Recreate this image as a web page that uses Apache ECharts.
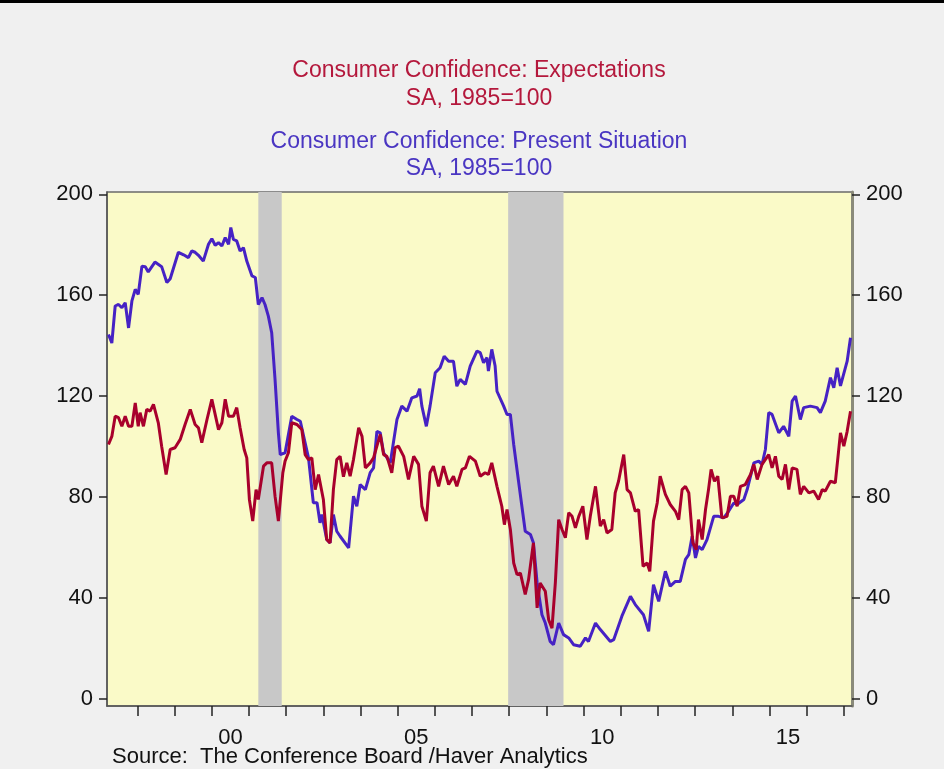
<!DOCTYPE html>
<html>
<head>
<meta charset="utf-8">
<script src="https://cdn.jsdelivr.net/npm/echarts@6/dist/echarts.min.js"></script>
<style>
html,body{margin:0;padding:0;background:#f0f0f0}
#chart{width:944px;height:769px}
</style>
</head>
<body>
<div id="chart"></div>
<script>
// Present Situation (blue), decimal years
var presentDates = [1997.22,1997.31,1997.40,1997.49,1997.58,1997.67,1997.76,1997.85,1997.94,1998.02,1998.12,1998.21,1998.29,1998.47,1998.65,1998.79,1998.88,1999.10,1999.24,1999.37,1999.46,1999.55,1999.64,1999.77,1999.91,2000.00,2000.09,2000.18,2000.27,2000.36,2000.45,2000.51,2000.58,2000.67,2000.76,2000.85,2000.94,2001.08,2001.17,2001.25,2001.35,2001.43,2001.52,2001.61,2001.70,2001.79,2001.84,2001.97,2002.15,2002.29,2002.38,2002.47,2002.60,2002.73,2002.83,2002.91,2002.96,2003.09,2003.18,2003.27,2003.36,2003.45,2003.68,2003.81,2003.90,2003.99,2004.13,2004.26,2004.35,2004.44,2004.53,2004.62,2004.80,2004.98,2005.11,2005.25,2005.38,2005.52,2005.59,2005.65,2005.77,2005.87,2006.01,2006.14,2006.25,2006.37,2006.50,2006.59,2006.68,2006.82,2006.95,2007.13,2007.22,2007.31,2007.40,2007.44,2007.53,2007.62,2007.67,2007.85,2007.94,2008.03,2008.12,2008.25,2008.43,2008.57,2008.65,2008.75,2008.88,2008.97,2009.10,2009.19,2009.33,2009.46,2009.60,2009.73,2009.91,2010.05,2010.13,2010.32,2010.45,2010.72,2010.81,2011.03,2011.26,2011.39,2011.61,2011.75,2011.88,2012.02,2012.20,2012.33,2012.47,2012.60,2012.74,2012.83,2012.92,2013.01,2013.09,2013.19,2013.32,2013.50,2013.63,2013.77,2013.90,2014.04,2014.13,2014.31,2014.40,2014.58,2014.71,2014.80,2014.89,2014.98,2015.07,2015.25,2015.38,2015.52,2015.61,2015.70,2015.83,2015.92,2016.10,2016.28,2016.37,2016.50,2016.64,2016.73,2016.82,2016.91,2017.09,2017.18];
var presentValues = [144.4,141,155.7,156.3,155,157,147,157.7,162.3,160.3,171.5,171.3,169.2,173.1,171.3,165,166.5,177,176,174.9,177.5,177,175.8,173.5,180.2,182.4,179.8,180.8,179.5,182.8,180.2,186.8,182.1,181.5,177.5,178.8,173.5,167.6,167,156.3,159,156.3,151.7,145.1,126.6,105.4,96.8,97.5,112,110.7,110,104,95.5,77.7,77.7,69.7,73,63.1,61.8,73,66.4,64.4,59.8,80.3,76.3,84.9,82.9,89.6,91.5,106,105.4,97.5,93.5,110.7,116,114,119.3,120,122.9,116,108,116,129.2,131.2,135.8,133.8,133.8,123.9,126.6,124.6,131.9,137.8,137.2,133.2,135.2,129.9,138.5,131.9,121.9,116,112.7,112.7,100.8,86.2,66.4,65.1,61.8,45.9,33.3,30,22.7,21.4,30,25.4,24.1,21.4,20.8,24.1,22.7,30,27.4,22.7,23.4,32.7,40.6,37.3,33.3,26.7,45.2,38.6,50.5,44.6,46.5,46.5,55.2,57.1,64.4,55.8,60.4,59.1,63.1,72.3,72.3,71.7,74.3,77.6,77,79,82.9,93.5,94.2,92.9,98.8,113.4,112.7,105.4,108,104,118,120,110.7,115.4,116,115.4,113.4,118,127.3,123.3,131.2,124,133.8,143.1];

// Expectations (red)
var expectDates = [1997.22,1997.31,1997.40,1997.49,1997.58,1997.67,1997.76,1997.85,1997.94,1998.02,1998.07,1998.16,1998.25,1998.34,1998.43,1998.56,1998.65,1998.77,1998.88,1999.01,1999.15,1999.28,1999.42,1999.55,1999.64,1999.73,1999.87,2000.00,2000.18,2000.27,2000.36,2000.45,2000.58,2000.67,2000.76,2000.87,2000.94,2001.01,2001.10,2001.19,2001.25,2001.39,2001.48,2001.61,2001.70,2001.79,2001.91,2001.97,2002.06,2002.15,2002.29,2002.42,2002.51,2002.60,2002.69,2002.78,2002.87,2003.00,2003.09,2003.18,2003.27,2003.36,2003.45,2003.54,2003.63,2003.72,2003.81,2003.95,2004.04,2004.13,2004.26,2004.35,2004.53,2004.62,2004.71,2004.84,2004.93,2005.02,2005.16,2005.29,2005.43,2005.56,2005.65,2005.77,2005.87,2005.96,2006.10,2006.23,2006.37,2006.50,2006.59,2006.73,2006.82,2006.93,2007.09,2007.22,2007.35,2007.44,2007.53,2007.67,2007.80,2007.87,2007.94,2008.03,2008.12,2008.21,2008.30,2008.43,2008.52,2008.65,2008.75,2008.83,2008.97,2009.06,2009.15,2009.24,2009.33,2009.42,2009.51,2009.60,2009.69,2009.78,2009.87,2009.98,2010.09,2010.18,2010.32,2010.45,2010.54,2010.63,2010.76,2010.85,2010.94,2010.99,2011.08,2011.17,2011.26,2011.39,2011.48,2011.60,2011.71,2011.78,2011.88,2011.98,2012.06,2012.20,2012.33,2012.47,2012.56,2012.65,2012.74,2012.83,2012.94,2013.03,2013.09,2013.19,2013.28,2013.36,2013.43,2013.52,2013.61,2013.72,2013.86,2013.95,2014.04,2014.13,2014.22,2014.35,2014.49,2014.58,2014.67,2014.80,2014.98,2015.07,2015.16,2015.25,2015.34,2015.43,2015.52,2015.61,2015.74,2015.83,2015.92,2016.06,2016.19,2016.32,2016.42,2016.50,2016.64,2016.77,2016.91,2017.00,2017.09,2017.18];
var expectValues = [100.8,104,112,111.4,108,112,108,108,117.3,108,113.4,108,114.7,114,116.7,109.4,100.1,88.9,98.8,99.5,102.8,108.7,114.7,108.7,107.4,101.5,110.7,118.7,106.7,109.4,118.7,112,112,115.4,107.4,98.8,95.5,79,70.4,82.9,79,92.2,93.5,93.5,80.3,70.4,89.6,94.2,97.5,109.4,108.7,106.7,96.8,94.8,95.5,82.9,88.9,79,63.1,61.8,82.9,94.8,96.1,88,93.5,88.2,94.8,107.4,104,91.5,93.5,95.5,104.8,96.8,96.1,89.6,99.5,100.1,96.1,86.9,96.1,92.9,76.3,70.4,89.6,92.2,84.2,92.2,84.9,88.2,84.2,90.9,91.5,96.1,94.2,88.2,89.6,88.9,93.5,84.2,76.3,69,75,67.1,53.8,49.2,49.8,41.3,47.2,61.8,36,45.9,42.6,31.3,28,45.9,71,67.1,63.8,73.7,72.3,67.7,72.3,76.3,63.1,72.3,84.2,68.4,71,65.7,67.1,81.6,86.2,86.9,96.8,82.9,81.6,74.3,75,52.5,53.8,50.5,70.4,77.6,88.2,81,77,74.3,71,82.9,84.2,81.6,61.8,59.1,71,63.1,75,82.9,90.9,86.2,88.2,71.7,72.3,80.3,80.3,76.3,84.2,84.9,88.9,92.9,86.9,92.9,96.8,91.5,96.1,88.2,86.9,92.9,82.9,91.5,90.9,81,84.2,81.6,82.3,79,82.9,82.3,86.2,85.6,105.4,100.1,106,114];

// recessions (start, end)
var recessions = [[2001.25, 2001.88], [2007.97, 2009.46]];

var yTicks = [0, 40, 80, 120, 160, 200];
var yearTicks = [1998,1999,2000,2001,2002,2003,2004,2005,2006,2007,2008,2009,2010,2011,2012,2013,2014,2015,2016,2017];
var yearLabels = [2000.5, 2005.5, 2010.5, 2015.5];

function pairs(xs, ys) {
    var out = [];
    for (var i = 0; i < xs.length; i++) out.push([xs[i], ys[i]]);
    return out;
}

var chart = echarts.init(document.getElementById('chart'));
var font = 'Liberation Sans, Arial, sans-serif';

var yAxisBase = {
    type: 'value',
    min: -2.9,
    max: 200.9,
    splitLine: { show: false },
    axisLine: { show: true, lineStyle: { color: '#555', width: 1.5 } },
    axisTick: { show: true, customValues: yTicks, length: 8, lineStyle: { color: '#222', width: 1.5 } },
    axisLabel: { customValues: yTicks, margin: 14, color: '#111', fontSize: 22, fontFamily: font }
};

chart.setOption({
    backgroundColor: '#f0f0f0',
    animation: false,
    grid: {
        left: 107, right: 92, top: 192, bottom: 63,
        show: true,
        backgroundColor: '#fafac8',
        borderColor: '#6a6a6a',
        borderWidth: 1.5
    },
    graphic: [
        { type: 'rect', shape: { x: 0, y: 0, width: 944, height: 3 }, style: { fill: '#000' } },
        { type: 'text', x: 479, y: 71, style: { text: 'Consumer Confidence: Expectations', fill: '#b4183c', font: '23px ' + font, textAlign: 'center', textVerticalAlign: 'middle' } },
        { type: 'text', x: 479, y: 99, style: { text: 'SA, 1985=100', fill: '#b4183c', font: '23px ' + font, textAlign: 'center', textVerticalAlign: 'middle' } },
        { type: 'text', x: 479, y: 142, style: { text: 'Consumer Confidence: Present Situation', fill: '#4a36c2', font: '23px ' + font, textAlign: 'center', textVerticalAlign: 'middle' } },
        { type: 'text', x: 479, y: 169, style: { text: 'SA, 1985=100', fill: '#4a36c2', font: '23px ' + font, textAlign: 'center', textVerticalAlign: 'middle' } },
        { type: 'text', x: 112, y: 757, style: { text: 'Source:  The Conference Board /Haver Analytics', fill: '#111', font: '22px ' + font, textAlign: 'left', textVerticalAlign: 'middle' } }
    ],
    xAxis: {
        type: 'value',
        min: 1997.18,
        max: 2017.22,
        splitLine: { show: false },
        axisLine: { show: true, onZero: false, lineStyle: { color: '#555', width: 1.5 } },
        axisTick: { show: true, customValues: yearTicks, length: 10, lineStyle: { color: '#222', width: 1.5 } },
        axisLabel: {
            customValues: yearLabels,
            margin: 21,
            color: '#111',
            fontSize: 22,
            fontFamily: font,
            formatter: function (v) {
                var yy = Math.floor(v) % 100;
                return (yy < 10 ? '0' : '') + yy;
            }
        }
    },
    yAxis: [
        Object.assign({}, yAxisBase, { position: 'left' }),
        Object.assign({}, yAxisBase, {
            position: 'right',
            axisLine: { show: true, lineStyle: { color: '#8a8a7a', width: 3 } }
        })
    ],
    series: [
        {
            name: 'Present Situation',
            type: 'line',
            showSymbol: false,
            data: pairs(presentDates, presentValues),
            lineStyle: { color: '#4622c4', width: 3 },
            itemStyle: { color: '#4622c4' },
            z: 3,
            markArea: {
                silent: true,
                itemStyle: { color: '#c8c8c8', opacity: 1 },
                data: recessions.map(function (r) { return [{ xAxis: r[0] }, { xAxis: r[1] }]; })
            }
        },
        {
            name: 'Expectations',
            type: 'line',
            showSymbol: false,
            data: pairs(expectDates, expectValues),
            lineStyle: { color: '#a8002c', width: 3 },
            itemStyle: { color: '#a8002c' },
            z: 4
        }
    ]
});
</script>
</body>
</html>
